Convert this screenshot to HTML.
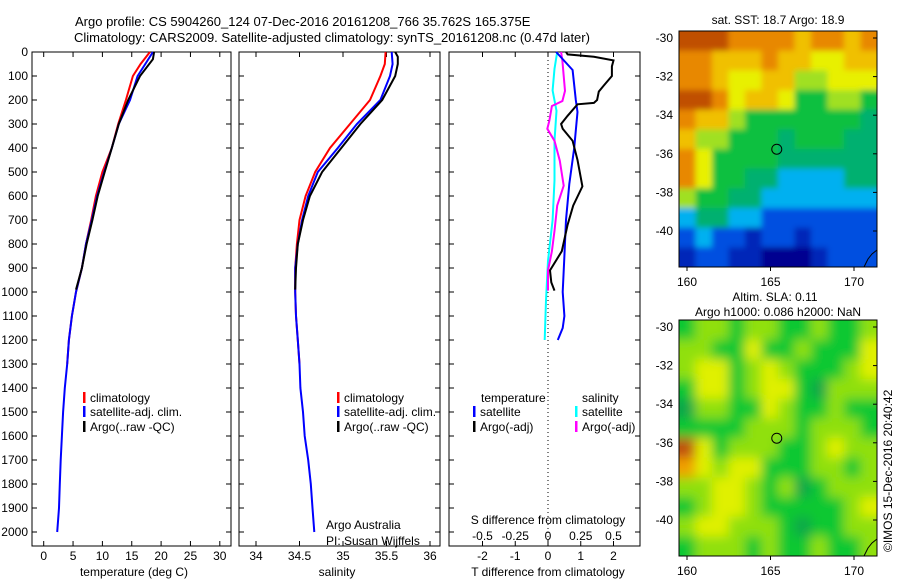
<!DOCTYPE html>
<html><head><meta charset="utf-8"><style>
body{margin:0;background:#fff}
svg{display:block;font-family:"Liberation Sans",sans-serif}
text{fill:#000}
</style></head><body>
<svg id="s" width="900" height="580" viewBox="0 0 900 580">
<defs>
<filter id="blur" x="0" y="0" width="1" height="1"><feGaussianBlur stdDeviation="5.5"/></filter>
<filter id="blurS" x="0" y="0" width="1" height="1"><feGaussianBlur stdDeviation="3"/></filter>
<clipPath id="clipSST"><rect x="679" y="31" width="198" height="236"/></clipPath>
<clipPath id="clipSLA"><rect x="679" y="320" width="198" height="236"/></clipPath>
</defs>
<text x="75" y="26" font-size="13">Argo profile: CS 5904260_124 07-Dec-2016 20161208_766 35.762S 165.375E</text>
<text x="74" y="42" font-size="13">Climatology: CARS2009. Satellite-adjusted climatology: synTS_20161208.nc (0.47d later)</text>
<g id="g"></g>
<text transform="translate(892,552) rotate(-90)" font-size="12">©IMOS 15-Dec-2016 20:40:42</text>
</svg>
<script>
// ---- profile data ----
const tClimDepth=[0,50,100,200,300,400,500,600,700,800,900,1000,1100,1200,1300];
const tClimVal=[18.1,16.5,15.2,14.0,12.7,11.6,10.0,8.9,8.1,7.2,6.5,5.5,4.8,4.3,4.0];
const tSatDepth=[0,50,100,200,300,400,500,600,700,800,900,1000,1100,1200,1300,1400,1500,1600,1700,1800,1900,2000];
const tSatVal=[18.6,17.3,16.0,14.7,12.8,11.6,10.3,9.1,8.2,7.2,6.5,5.5,4.8,4.3,4.0,3.6,3.3,3.1,2.9,2.75,2.6,2.3];
const tArgoDepth=[0,30,100,200,300,400,500,600,700,800,900,990];
const tArgoVal=[18.8,18.6,16.4,14.4,12.8,11.6,10.4,9.2,8.3,7.3,6.5,5.5];
const sClimDepth=[0,50,100,200,300,400,500,600,700,800,900,1000,1100,1200,1300];
const sClimVal=[35.49,35.48,35.43,35.31,35.08,34.85,34.68,34.57,34.5,34.47,34.45,34.45,34.46,34.48,34.5];
const sSatDepth=[0,50,100,200,300,400,500,600,700,800,900,1000,1100,1200,1300,1400,1500,1600,1700,1800,1900,2000];
const sSatVal=[35.56,35.57,35.54,35.43,35.16,34.94,34.71,34.6,34.53,34.48,34.45,34.45,34.46,34.48,34.5,34.51,34.54,34.56,34.6,34.63,34.65,34.67];
const sArgoDepth=[0,20,50,100,200,300,400,500,600,700,800,900,990];
const sArgoVal=[35.6,35.63,35.63,35.6,35.45,35.2,34.98,34.76,34.62,34.54,34.48,34.46,34.45];
const dTSatDepth=[0,75,200,250,400,550,700,850,1000,1100,1150,1200];
const dTSatVal=[0.25,0.75,0.85,0.9,0.8,0.65,0.55,0.5,0.45,0.5,0.45,0.3];
const dTArgoDepth=[0,10,20,35,60,100,140,165,200,212,218,266,300,320,370,450,560,640,720,830,910,960,994];
const dTArgoVal=[0.55,0.6,1.4,2.0,1.95,1.95,1.7,1.55,1.5,1.4,0.9,0.6,0.4,0.45,0.75,0.9,1.05,0.77,0.6,0.42,0.06,0.1,0.2];
const dSSatDepth=[0,70,160,245,370,535,700,870,1035,1200];
const dSSatVal=[0.07,0.05,0.035,0.065,0.05,0.05,0.035,0.0,-0.015,-0.025];
const dSArgoDepth=[0,37,162,204,225,287,320,370,453,557,640,745,830,910,994];
const dSArgoVal=[0.1,0.11,0.13,0.11,0.03,0.01,-0.005,0.05,0.09,0.12,0.07,0.05,0.03,0.0,0.0];
const depthTicks=[0,100,200,300,400,500,600,700,800,900,1000,1100,1200,1300,1400,1500,1600,1700,1800,1900,2000];
const tempTicks=[0,5,10,15,20,25,30];
const salTicks=[34,34.5,35,35.5,36];
const dTTicks=[-2,-1,0,1,2];
const dSTicks=[-0.5,-0.25,0,0.25,0.5];
const dSTickLabels=["-0.5","-0.25","0","0.25","0.5"];
// ---- map data (coarse grids, rows north->south) ----
const sstGrid=[
[9,9,9,8,8,8,8,7,8,8,7,8],
[8,8,7,7,7,8,7,7,6,6,7,7],
[8,8,7,6,6,7,7,5,5,6,6,6],
[9,9,8,6,7,7,6,4,4,5,5,4],
[8,7,7,5,4,4,4,4,4,4,4,3],
[7,5,5,4,4,4,3,4,4,4,3,3],
[8,6,4,4,4,4,3,3,3,3,3,3],
[8,6,4,4,3,3,2,2,2,2,3,3],
[5,4,4,3,3,2,2,2,2,2,2,2],
[2,3,3,2,2,1,1,1,1,1,1,1],
[1,2,1,1,0.5,1,1,0.5,1,1,1,1],
[0.5,1,1,0.5,0.5,0,0,0,0.5,1,1,1]];
const slaGrid=[
[1,2,2,1,2,2,1,1,2,1,1,2],
[2,2,1,1,3,1,1,2,1,1,1,3],
[2,3,3,1,2,3,2,1,1,1,2,3],
[1,3,3,1,2,3,3,1,0,2,2,2],
[0,2,2,1,1,3,2,1,1,2,1,1],
[1,1,1,1,2,2,2,1,2,2,2,1],
[5,3,1,2,2,2,1,1,2,3,2,2],
[4,3,2,3,3,1,1,1,2,2,1,2],
[2,2,3,3,2,1,2,0,1,2,2,2],
[1,2,3,3,2,1,1,1,1,1,2,3],
[2,3,3,2,2,2,1,0,1,1,2,2],
[1,2,2,2,1,2,1,1,2,1,1,2]];
const latTicks=[-30,-32,-34,-36,-38,-40];
const lonTicks=[160,165,170];
const argoLon=165.375, argoLat=-35.762;

const NS="http://www.w3.org/2000/svg";
const G=document.getElementById('g');
function el(tag,attrs,parent){const e=document.createElementNS(NS,tag);for(const k in attrs)e.setAttribute(k,attrs[k]);(parent||G).appendChild(e);return e;}
const y0=52,yTop=52,yBot=546;
const yD=d=>y0+d*0.24;
function panel(x0,x1,name){
  const r=el('rect',{x:x0,y:yTop,width:x1-x0,height:yBot-yTop,fill:'none',stroke:'#000','stroke-width':1});
  
  
}
function line(xs,ds,fx,color,name,w){
  const pts=ds.map((d,i)=>fx(xs[i]).toFixed(1)+','+yD(d).toFixed(1)).join(' ');
  const p=el('polyline',{points:pts,fill:'none',stroke:color,'stroke-width':w||2});
  
  
}
function txt(x,y,s,size,anchor,name){
  const t=el('text',{x:x,y:y,'font-size':size||12,'text-anchor':anchor||'start'});t.textContent=s;
  
  
  return t;
}
function legend(x,y,color,label,name){
  const m=el('rect',{x:x,y:y-10,width:2.5,height:11,fill:color});
  
  
  txt(x+7,y,label,12,'start',name);
}
// panel 1 temperature
const fT=v=>43.7+v*5.87;
panel(32,231,'temperature-panel');
depthTicks.forEach(d=>{el('line',{x1:32,x2:37,y1:yD(d),y2:yD(d),stroke:'#000'});el('line',{x1:226,x2:231,y1:yD(d),y2:yD(d),stroke:'#000'});txt(28,yD(d)+4,String(d),12,'end','depth-tick-label');});
tempTicks.forEach(v=>{el('line',{x1:fT(v),x2:fT(v),y1:yBot,y2:yBot-5,stroke:'#000'});el('line',{x1:fT(v),x2:fT(v),y1:yTop,y2:yTop+5,stroke:'#000'});txt(fT(v),560,String(v),12,'middle','temperature-tick-label');});
txt(134,576,'temperature (deg C)',12,'middle','temperature-axis-title');
line(tClimVal,tClimDepth,fT,'#f00','temp-climatology-line');
line(tSatVal,tSatDepth,fT,'#00f','temp-satellite-line');
line(tArgoVal,tArgoDepth,fT,'#000','temp-argo-line');
legend(83,402,'#f00','climatology','legend-climatology');
legend(83,416,'#00f','satellite-adj. clim.','legend-satellite-adj');
legend(83,431,'#000','Argo(..raw -QC)','legend-argo');
// panel 2 salinity
const fS=v=>256+(v-34)*87;
panel(239,440,'salinity-panel');
depthTicks.forEach(d=>{el('line',{x1:239,x2:244,y1:yD(d),y2:yD(d),stroke:'#000'});el('line',{x1:435,x2:440,y1:yD(d),y2:yD(d),stroke:'#000'});});
salTicks.forEach(v=>{el('line',{x1:fS(v),x2:fS(v),y1:yBot,y2:yBot-5,stroke:'#000'});el('line',{x1:fS(v),x2:fS(v),y1:yTop,y2:yTop+5,stroke:'#000'});txt(fS(v),560,String(v),12,'middle','salinity-tick-label');});
txt(337,576,'salinity',12,'middle','salinity-axis-title');
line(sClimVal,sClimDepth,fS,'#f00','sal-climatology-line');
line(sSatVal,sSatDepth,fS,'#00f','sal-satellite-line');
line(sArgoVal,sArgoDepth,fS,'#000','sal-argo-line');
legend(337,402,'#f00','climatology','legend-climatology-2');
legend(337,416,'#00f','satellite-adj. clim.','legend-satellite-adj-2');
legend(337,431,'#000','Argo(..raw -QC)','legend-argo-2');
txt(326,529,'Argo Australia',12,'start','institution-label');
txt(326,545,'PI: Susan Wijffels',12,'start','pi-label');
// panel 3 differences
const fdT=v=>548+v*32.75, fdS=v=>548+v*131;
panel(449,640,'difference-panel');
el('line',{x1:548,x2:548,y1:yTop,y2:yBot,stroke:'#000','stroke-dasharray':'1,3'});
depthTicks.forEach(d=>{el('line',{x1:449,x2:454,y1:yD(d),y2:yD(d),stroke:'#000'});el('line',{x1:635,x2:640,y1:yD(d),y2:yD(d),stroke:'#000'});});
dTTicks.forEach(v=>{el('line',{x1:fdT(v),x2:fdT(v),y1:yBot,y2:yBot-5,stroke:'#000'});txt(fdT(v),560,String(v),12,'middle','tdiff-tick-label');});
dSTicks.forEach((v,i)=>{el('line',{x1:fdS(v),x2:fdS(v),y1:yTop,y2:yTop+5,stroke:'#000'});txt(fdS(v),540,dSTickLabels[i],12,'middle','sdiff-tick-label');});
txt(548,524,'S difference from climatology',12,'middle','sdiff-axis-title');
txt(548,576,'T difference from climatology',12,'middle','tdiff-axis-title');
line(dSSatVal,dSSatDepth,fdS,'#0ff','sdiff-satellite-line');
line(dSArgoVal,dSArgoDepth,fdS,'#f0f','sdiff-argo-line');
line(dTSatVal,dTSatDepth,fdT,'#00f','tdiff-satellite-line');
line(dTArgoVal,dTArgoDepth,fdT,'#000','tdiff-argo-line');
txt(481,402,'temperature',12,'start','legend-temperature-header');
txt(582,402,'salinity',12,'start','legend-salinity-header');
legend(473,416,'#00f','satellite','legend-t-satellite');
legend(473,431,'#000','Argo(-adj)','legend-t-argo');
legend(575,416,'#0ff','satellite','legend-s-satellite');
legend(575,431,'#f0f','Argo(-adj)','legend-s-argo');
// maps
function cmap(stops,v){
  const i=Math.max(0,Math.min(stops.length-2,Math.floor(v)));const f=Math.max(0,Math.min(1,v-i));
  const a=stops[i],b=stops[i+1];
  const h=c=>[1,3,5].map(k=>parseInt(c.substr(k,2),16));
  const A=h(a),B=h(b);return 'rgb('+A.map((x,k)=>Math.round(x+(B[k]-x)*f)).join(',')+')';
}
const sstStops=['#000090','#0050e0','#00b0f0','#00b070','#10c040','#a0e020','#e8f000','#f0c000','#e88800','#c05000'];
const slaStops=['#08a848','#10c830','#90e010','#e0f000','#f0a000','#c05010'];
const lonX=l=>687+(l-160)*16.7;
function drawMap(grid,stops,top,name,filt,clip){
  const gg=el('g',{'clip-path':'url(#'+clip+')'});
  
  
  const inner=el('g',{filter:'url(#'+filt+')'},gg);
  const rows=grid.length,cols=grid[0].length,cw=198/cols,ch=236/rows;
  grid.forEach((row,i)=>row.forEach((v,j)=>{
    const c=el('rect',{x:679+j*cw-(j==0?20:0),y:top+i*ch-(i==0?20:0),width:cw+0.6+((j==0||j==cols-1)?20:0),height:ch+0.6+((i==0||i==rows-1)?20:0),fill:cmap(stops,v)},inner);
    
    
  }));
  const fr=el('rect',{x:679,y:top,width:198,height:236,fill:'none',stroke:'#000'});
  
  
  const latY=l=>top+7+(-30-l)*19.3;
  latTicks.forEach(l=>{el('line',{x1:873,x2:877,y1:latY(l),y2:latY(l),stroke:'#000'});txt(673,latY(l)+4,String(l),12,'end',name+'-lat-label');});
  lonTicks.forEach(l=>{el('line',{x1:lonX(l),x2:lonX(l),y1:top+236,y2:top+240,stroke:'#000'});txt(lonX(l),top+255,String(l),12,'middle',name+'-lon-label');});
  const m=el('circle',{cx:lonX(argoLon),cy:latY(argoLat),r:5,fill:'none',stroke:'#000'});
  
  
  const cst=el('polyline',{points:'864,'+(top+236)+' 868,'+(top+228)+' 872,'+(top+223)+' 877,'+(top+219),fill:'none',stroke:'#000'});
  
  
}
drawMap(sstGrid,sstStops,31,'sst-map','blurS','clipSST');
drawMap(slaGrid,slaStops,320,'sla-map','blur','clipSLA');
txt(778,24,'sat. SST: 18.7 Argo: 18.9',12,'middle','sst-map-title');
txt(775,301,'Altim. SLA: 0.11',12,'middle','sla-map-title');
txt(778,316,'Argo h1000: 0.086 h2000: NaN',12,'middle','sla-map-subtitle');
</script>
</body></html>
